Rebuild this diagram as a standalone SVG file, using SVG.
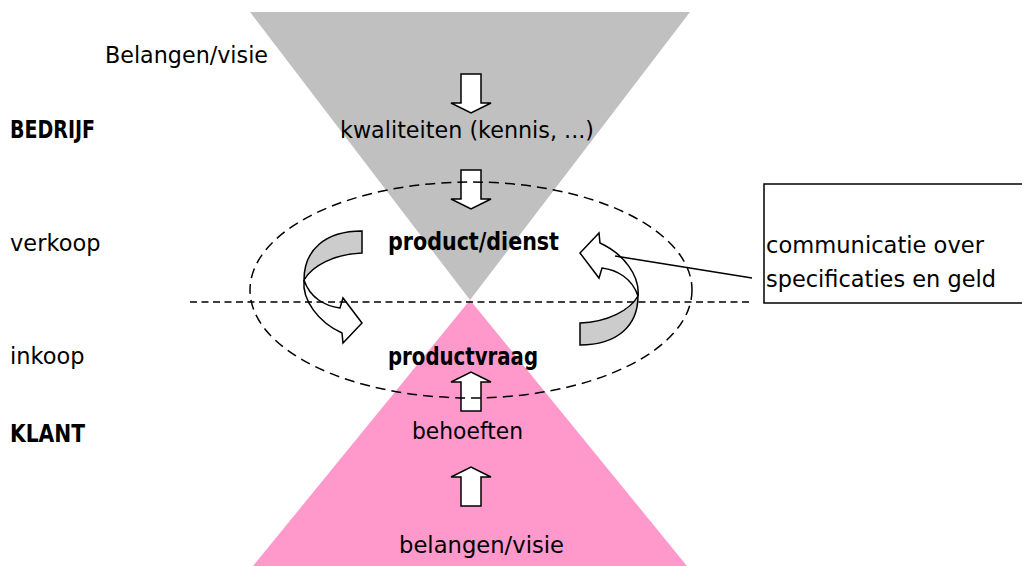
<svg xmlns="http://www.w3.org/2000/svg" width="1022" height="566" viewBox="0 0 1022 566">
<defs>
<style>
.t{font-family:"DejaVu Sans",Verdana,sans-serif;font-size:22.5px;fill:#000}
.b{font-family:"DejaVu Sans Condensed","DejaVu Sans",sans-serif;font-size:24px;font-weight:bold;fill:#000}
.blk{fill:#fff;stroke:#000;stroke-width:1.5;stroke-linejoin:miter}
.band{fill:#cccccc;stroke:#000;stroke-width:1.5}
.dash{fill:none;stroke:#000;stroke-width:1.5}
</style>
<path id="da" d="M461,0 h20 v29 h10 l-20,10 l-20,-10 h10 z"/>
<g id="curl">
<path class="band" d="M362,231 C325,231 304,250 304,280 C312,266 334,254 362,253 Z"/>
<path class="blk" d="M304,280 C302,300 318,322 342,333 L343,343 L362,323 L343,298 L340,308 C325,306 310,298 304,280 Z"/>
</g>
</defs>
<rect width="1022" height="566" fill="#fff"/>
<g id="bedrijf-triangle"><polygon points="250,12 690,12 470,300" fill="#c0c0c0"/></g>
<g id="klant-triangle"><polygon points="470,300 687,566 253,566" fill="#ff99cc"/></g>
<g id="arrows">
<use href="#da" class="blk" transform="translate(0,74)"/>
<use href="#da" class="blk" transform="translate(0,170)"/>
<use href="#da" class="blk" transform="translate(942,411) scale(-1,-1)"/>
<use href="#da" class="blk" transform="translate(942,506) scale(-1,-1)"/>
</g>
<g id="cycle-left"><use href="#curl"/></g>
<g id="cycle-right"><use href="#curl" transform="rotate(180 471 288)"/></g>
<g id="boundary">
<ellipse class="dash" cx="471" cy="290" rx="221" ry="108" stroke-dasharray="10 6"/>
<line class="dash" x1="190" y1="302" x2="750" y2="302" stroke-dasharray="7 4.5"/>
</g>
<g id="note">
<rect x="764" y="184" width="280" height="119" fill="#fff" stroke="#000" stroke-width="1.5"/>
<text class="t" x="766" y="253" textLength="218" lengthAdjust="spacingAndGlyphs">communicatie over</text>
<text class="t" x="766" y="287" textLength="230" lengthAdjust="spacingAndGlyphs">specificaties en geld</text>
</g>
<g id="connectors">
<line x1="615" y1="256" x2="752" y2="278" stroke="#000" stroke-width="1.5"/>
</g>
<g id="labels">
<text class="t" x="105" y="63" textLength="163" lengthAdjust="spacingAndGlyphs">Belangen/visie</text>
<text class="b" x="10" y="138" textLength="85" lengthAdjust="spacingAndGlyphs">BEDRIJF</text>
<text class="t" x="340" y="138" textLength="254" lengthAdjust="spacingAndGlyphs">kwaliteiten (kennis, ...)</text>
<text class="t" x="10" y="251">verkoop</text>
<text class="b" x="388" y="250" textLength="171" lengthAdjust="spacingAndGlyphs">product/dienst</text>
<text class="t" x="10" y="364">inkoop</text>
<text class="b" x="388" y="365" textLength="150" lengthAdjust="spacingAndGlyphs">productvraag</text>
<text class="b" x="10" y="442" textLength="75" lengthAdjust="spacingAndGlyphs">KLANT</text>
<text class="t" x="412" y="439" textLength="111" lengthAdjust="spacingAndGlyphs">behoeften</text>
<text class="t" x="399" y="553" textLength="165" lengthAdjust="spacingAndGlyphs">belangen/visie</text>
</g>
</svg>
